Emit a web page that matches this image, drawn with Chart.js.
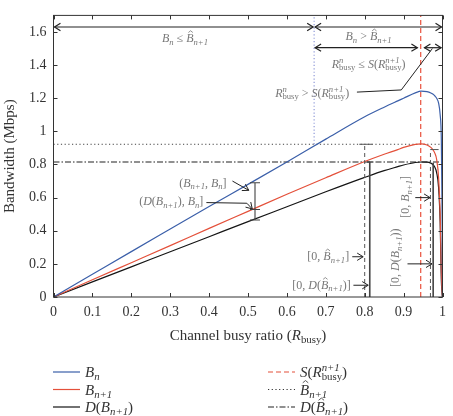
<!DOCTYPE html>
<html>
<head>
<meta charset="utf-8">
<script src="https://cdn.jsdelivr.net/npm/chart.js@4.4.1/dist/chart.umd.min.js"></script>
<style>
  html, body { margin: 0; padding: 0; background: #fff; }
</style>
</head>
<body>
<canvas id="chart" width="453" height="416"></canvas>
<script>
// values
const rBusy = [0, 0.1, 0.2, 0.3, 0.4, 0.5, 0.6, 0.7, 0.8, 0.85, 0.885, 0.9, 0.93, 0.945, 0.96, 0.97, 0.975, 0.98, 0.985, 0.99, 0.994, 0.997, 0.999, 1.0]
const bn    = [0, 0.137, 0.274, 0.41, 0.546, 0.68, 0.815, 0.953, 1.088, 1.146, 1.184, 1.2, 1.232, 1.243, 1.24, 1.232, 1.225, 1.215, 1.2, 1.17, 1.1, 0.95, 0.5, 0]
const bn1   = [0, 0.104, 0.207, 0.31, 0.414, 0.517, 0.62, 0.72, 0.818, 0.862, 0.89, 0.903, 0.921, 0.924, 0.918, 0.903, 0.89, 0.87, 0.83, 0.72, 0.5, 0.15, 0.03, 0]
const dBn1  = [0, 0.091, 0.182, 0.273, 0.364, 0.455, 0.545, 0.635, 0.722, 0.763, 0.787, 0.797, 0.812, 0.815, 0.814, 0.808, 0.8, 0.785, 0.75, 0.66, 0.45, 0.1, 0.02, 0]

const sRbusy = 0.944      // S(R^{n+1}_busy)
const bHat = 0.922        // B^_{n+1}
const dBHat = 0.815       // D(B^_{n+1})
const splitR = 0.67       // where B_n = B^_{n+1}

const xTicks = [0, 0.1, 0.2, 0.3, 0.4, 0.5, 0.6, 0.7, 0.8, 0.9, 1]
const yTicks = [0, 0.2, 0.4, 0.6, 0.8, 1, 1.2, 1.4, 1.6]

const BLUE = '#3b5fa9'
const RED = '#e4503a'
const BLACK = '#151515'
const GRAY = '#777'
const SERIF = '"Liberation Serif", "DejaVu Serif", serif'

function pts(ys) {
  return rBusy.map((x, i) => ({ x: x, y: ys[i] }))
}

function line(data, color, extra) {
  return Object.assign({
    data: data, borderColor: color, borderWidth: 1.2,
    pointRadius: 0, fill: false, tension: 0
  }, extra || {})
}

// ---- small math-text helper (italic, sub/sup, hat) ----
function fnt(size, it) {
  return (it ? 'italic ' : '') + size + 'px ' + SERIF
}

function runMath(ctx, parts, x, y, size, draw) {
  let cx = x
  parts.forEach(p => {
    const o = typeof p === 'string' ? { t: p } : p
    ctx.font = fnt(size, o.i)
    const w = ctx.measureText(o.t).width
    if (draw) {
      ctx.fillText(o.t, cx, y)
      if (o.hat) {
        const hx = cx + w * 0.6
        ctx.save()
        ctx.lineWidth = 0.8
        ctx.strokeStyle = ctx.fillStyle
        ctx.beginPath()
        ctx.moveTo(hx - w * 0.3, y - size * 0.78)
        ctx.lineTo(hx, y - size * 0.93)
        ctx.lineTo(hx + w * 0.3, y - size * 0.78)
        ctx.stroke()
        ctx.restore()
      }
    }
    cx += w
    const ss = size * 0.72
    let sw = 0
    if (o.sub) {
      ctx.font = fnt(ss, o.subI !== false)
      sw = ctx.measureText(o.sub).width
      if (draw) ctx.fillText(o.sub, cx, y + size * 0.22)
    }
    if (o.sup) {
      ctx.font = fnt(ss, true)
      const w2 = ctx.measureText(o.sup).width
      if (draw) ctx.fillText(o.sup, cx, y - size * 0.42)
      sw = Math.max(sw, w2)
    }
    cx += sw
  })
  return cx - x
}

function drawMath(ctx, parts, x, y, size, align, color) {
  ctx.save()
  ctx.fillStyle = color
  ctx.textAlign = 'left'
  ctx.textBaseline = 'alphabetic'
  const w = runMath(ctx, parts, 0, 0, size, false)
  let sx = x
  if (align === 'center') sx = x - w / 2
  if (align === 'right') sx = x - w
  runMath(ctx, parts, sx, y, size, true)
  ctx.restore()
}

function arrowHead(ctx, x1, y1, x2, y2, len) {
  const a = Math.atan2(y2 - y1, x2 - x1)
  ctx.beginPath()
  ctx.moveTo(x2 - len * Math.cos(a - 0.55), y2 - len * Math.sin(a - 0.55))
  ctx.lineTo(x2, y2)
  ctx.lineTo(x2 - len * Math.cos(a + 0.55), y2 - len * Math.sin(a + 0.55))
  ctx.stroke()
}

// labels
const Bn = { t: 'B', i: true, sub: 'n' }
const Bn1 = { t: 'B', i: true, sub: 'n+1' }
const Bh1 = { t: 'B', i: true, hat: true, sub: 'n+1' }
const Rn = { t: 'R', i: true, sup: 'n', sub: 'busy', subI: false }
const Rn1 = { t: 'R', i: true, sup: 'n+1', sub: 'busy', subI: false }
const D = { t: 'D', i: true }
const S = { t: 'S', i: true }

// annotation layout, in data units (x = R_busy, y = Mbps)
const spanArrows = [
  [0, splitR, 1.63], [splitR, 1.0, 1.63],
  [splitR, 0.938, 1.505], [0.951, 0.999, 1.505]
]
const textNotes = [
  { parts: [Bn, ' \u2264 ', Bh1], x: 0.338, y: 1.54, align: 'center' },
  { parts: [Bn, ' > ', Bh1], x: 0.81, y: 1.55, align: 'center' },
  { parts: [Rn, ' \u2264 ', S, '(', Rn1, ')'], x: 0.81, y: 1.385, align: 'center' },
  { parts: [Rn, ' > ', S, '(', Rn1, ')'], x: 0.76, y: 1.21, align: 'right' },
  { parts: ['(', Bn1, ', ', Bn, ']'], x: 0.445, y: 0.665, align: 'right' },
  { parts: ['(', D, '(', Bn1, '), ', Bn, ']'], x: 0.385, y: 0.555, align: 'right' },
  { parts: ['[0, ', Bh1, ']'], x: 0.76, y: 0.222, align: 'right' },
  { parts: ['[0, ', D, '(', Bh1, ')]'], x: 0.764, y: 0.05, align: 'right' }
]
const rotNotes = [
  { parts: ['[0, ', Bn1, ']'], x: 0.915, y: 0.604 },
  { parts: ['[0, ', D, '(', Bn1, '))'], x: 0.889, y: 0.237 }
]
const pointers = [
  [[0.46, 0.7], [0.502, 0.644]],
  [[0.393, 0.57], [0.497, 0.566], [0.511, 0.532]],
  [[0.768, 0.243], [0.796, 0.243]],
  [[0.771, 0.071], [0.809, 0.071]],
  [[0.93, 0.6], [0.968, 0.6]],
  [[0.91, 0.2], [0.973, 0.2]],
  [[0.78, 1.237], [0.894, 1.25], [0.974, 1.5]]
]
const bracket = { x: 0.518, ys: [0.69, 0.528, 0.465] }

const annotate = {
  id: 'annotate',
  afterDatasetsDraw(chart) {
    const ctx = chart.ctx
    const xs = chart.scales.x, ys = chart.scales.y
    const a = chart.chartArea
    const X = v => xs.getPixelForValue(v)
    const Y = v => ys.getPixelForValue(v)
    ctx.save()

    // range bars at R = 0.8 and R = 0.97
    ctx.strokeStyle = '#555'
    ctx.lineWidth = 1
    ctx.setLineDash([4, 3])
    ctx.beginPath()
    ctx.moveTo(X(0.8), Y(0)); ctx.lineTo(X(0.8), Y(bHat))
    ctx.moveTo(X(0.969), Y(0)); ctx.lineTo(X(0.969), Y(0.89))
    ctx.stroke()
    ctx.setLineDash([])
    ctx.beginPath()
    ctx.moveTo(X(0.786), Y(bHat)); ctx.lineTo(X(0.82), Y(bHat))
    ctx.moveTo(X(0.969), Y(0.89)); ctx.lineTo(X(0.99), Y(0.89))
    ctx.stroke()
    ctx.strokeStyle = '#444'
    ctx.lineWidth = 1.6
    ctx.beginPath()
    ctx.moveTo(X(0.813), Y(0)); ctx.lineTo(X(0.813), Y(dBHat))
    ctx.moveTo(X(0.806), Y(dBHat)); ctx.lineTo(X(0.82), Y(dBHat))
    ctx.moveTo(X(0.976), Y(0)); ctx.lineTo(X(0.976), Y(0.81))
    ctx.stroke()

    // bracket at R ~ 0.52
    ctx.lineWidth = 1.1
    ctx.strokeStyle = '#444'
    ctx.beginPath()
    ctx.moveTo(X(bracket.x), Y(bracket.ys[0])); ctx.lineTo(X(bracket.x), Y(bracket.ys[2]))
    bracket.ys.forEach(v => {
      ctx.moveTo(X(bracket.x) - 5, Y(v)); ctx.lineTo(X(bracket.x) + 5, Y(v))
    })
    ctx.stroke()

    // double arrows along the top
    ctx.strokeStyle = '#222'
    ctx.lineWidth = 1.2
    spanArrows.forEach(s => {
      const x1 = X(s[0]) + 1, x2 = X(s[1]) - 1, y = Y(s[2])
      ctx.beginPath(); ctx.moveTo(x1, y); ctx.lineTo(x2, y); ctx.stroke()
      arrowHead(ctx, x2, y, x1, y, 7)
      arrowHead(ctx, x1, y, x2, y, 7)
    })

    // pointer arrows
    ctx.lineWidth = 1
    pointers.forEach((p, k) => {
      ctx.beginPath()
      p.forEach((q, i) => i ? ctx.lineTo(X(q[0]), Y(q[1])) : ctx.moveTo(X(q[0]), Y(q[1])))
      ctx.stroke()
      if (k < pointers.length - 1) {
        const u = p[p.length - 2], v = p[p.length - 1]
        arrowHead(ctx, X(u[0]), Y(u[1]), X(v[0]), Y(v[1]), 7)
      }
    })

    // notes
    textNotes.forEach(n => drawMath(ctx, n.parts, X(n.x), Y(n.y), 12, n.align, GRAY))
    rotNotes.forEach(n => {
      ctx.save()
      ctx.translate(X(n.x), Y(n.y))
      ctx.rotate(-Math.PI / 2)
      drawMath(ctx, n.parts, 0, 0, 12, 'center', GRAY)
      ctx.restore()
    })

    // frame with inward ticks
    ctx.strokeStyle = '#333'
    ctx.lineWidth = 1
    ctx.strokeRect(a.left, a.top, a.right - a.left, a.bottom - a.top)
    ctx.beginPath()
    xTicks.forEach(v => {
      const px = Math.round(X(v)) + 0.5
      ctx.moveTo(px, a.bottom); ctx.lineTo(px, a.bottom - 4)
      ctx.moveTo(px, a.top); ctx.lineTo(px, a.top + 4)
    })
    yTicks.forEach(v => {
      const py = Math.round(Y(v)) + 0.5
      ctx.moveTo(a.left, py); ctx.lineTo(a.left + 4, py)
      ctx.moveTo(a.right, py); ctx.lineTo(a.right - 4, py)
    })
    ctx.stroke()

    // axis titles
    ctx.fillStyle = '#333'
    ctx.font = '15px ' + SERIF
    ctx.textAlign = 'center'
    ctx.textBaseline = 'middle'
    ctx.save()
    ctx.translate(10, (a.top + a.bottom) / 2)
    ctx.rotate(-Math.PI / 2)
    ctx.fillText('Bandwidth (Mbps)', 0, 0)
    ctx.restore()
    drawMath(ctx, ['Channel busy ratio (', { t: 'R', i: true, sub: 'busy', subI: false }, ')'],
      (a.left + a.right) / 2, 340, 15, 'center', '#333')

    // legend
    const legend = [
      { parts: [Bn], color: BLUE, dash: [], col: 0, row: 0 },
      { parts: [Bn1], color: RED, dash: [], col: 0, row: 1 },
      { parts: [D, '(', Bn1, ')'], color: BLACK, dash: [], col: 0, row: 2 },
      { parts: [S, '(', Rn1, ')'], color: RED, dash: [5, 3], col: 1, row: 0 },
      { parts: [Bh1], color: '#333', dash: [1.2, 2.5], col: 1, row: 1 },
      { parts: [D, '(', Bh1, ')'], color: '#222', dash: [6, 2, 1.5, 2], col: 1, row: 2 }
    ]
    legend.forEach(l => {
      const lx = l.col ? 268 : 53
      const ly = 372 + l.row * 17.5
      ctx.strokeStyle = l.color
      ctx.lineWidth = 1.2
      ctx.setLineDash(l.dash)
      ctx.beginPath(); ctx.moveTo(lx, ly); ctx.lineTo(lx + 27, ly); ctx.stroke()
      ctx.setLineDash([])
      drawMath(ctx, l.parts, lx + 32, ly + 5, 15, 'left', '#333')
    })
    ctx.restore()
  }
}

const tickFont = { family: SERIF, size: 14 }

new Chart(document.getElementById('chart'), {
  type: 'line',
  data: {
    datasets: [
      line(pts(bn), BLUE, { cubicInterpolationMode: 'monotone' }),
      line(pts(bn1), RED, { cubicInterpolationMode: 'monotone' }),
      line(pts(dBn1), BLACK, { cubicInterpolationMode: 'monotone' }),
      line([{ x: sRbusy, y: 0 }, { x: sRbusy, y: 1.7 }], '#e9503b', { borderDash: [5, 3] }),
      line([{ x: 0, y: bHat }, { x: 1, y: bHat }], '#444', { borderDash: [1.2, 2.5], borderWidth: 1 }),
      line([{ x: 0, y: dBHat }, { x: 1, y: dBHat }], '#222', { borderDash: [6, 2, 1.5, 2], borderWidth: 1.1 }),
      line([{ x: splitR, y: bHat }, { x: splitR, y: 1.7 }], '#8e98d8', { borderDash: [1.2, 2.2], borderWidth: 1.2 })
    ]
  },
  options: {
    responsive: false,
    animation: false,
    layout: { padding: { left: 0, top: 10, right: 4.5, bottom: 74 } },
    plugins: { legend: { display: false }, tooltip: { enabled: false } },
    scales: {
      x: {
        type: 'linear', min: 0, max: 1,
        afterBuildTicks: s => { s.ticks = xTicks.map(v => ({ value: v })) },
        afterFit: s => { s.height = 45 },
        grid: { display: false, drawTicks: false },
        border: { display: false },
        ticks: {
          padding: 7, color: '#333', font: tickFont, maxRotation: 0, autoSkip: false,
          callback: v => String(Math.round(v * 10) / 10)
        }
      },
      y: {
        type: 'linear', min: 0, max: 1.7,
        afterBuildTicks: s => { s.ticks = yTicks.map(v => ({ value: v })) },
        afterFit: s => { s.width = 53.5 },
        grid: { display: false, drawTicks: false },
        border: { display: false },
        ticks: {
          padding: 7, color: '#333', font: tickFont, autoSkip: false,
          callback: v => String(Math.round(v * 10) / 10)
        }
      }
    }
  },
  plugins: [annotate]
})
</script>
</body>
</html>
